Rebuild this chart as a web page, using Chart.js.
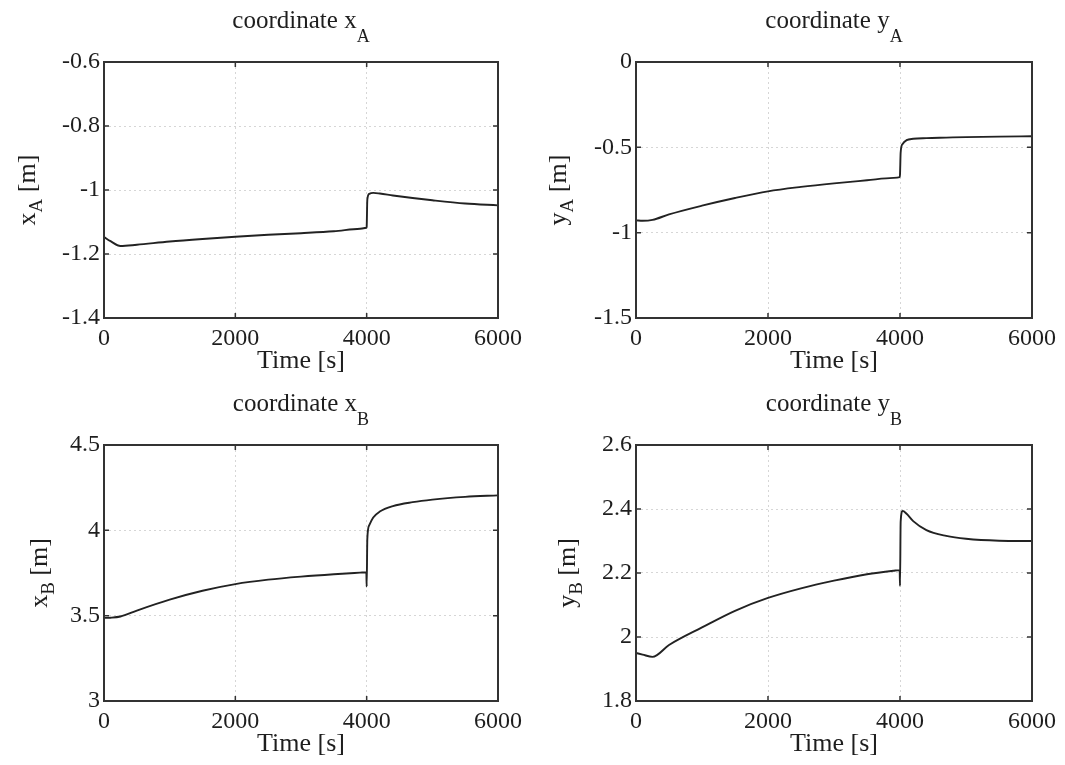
<!DOCTYPE html>
<html>
<head>
<meta charset="utf-8">
<script src="https://cdn.jsdelivr.net/npm/chart.js@4.4.1/dist/chart.umd.min.js"></script>
<style>
  html, body { margin: 0; padding: 0; background: #fff; }
  #wrap { position: relative; width: 1065px; height: 765px; }
  .panel { position: absolute; }
</style>
</head>
<body>
<div id="wrap">
  <div class="panel" style="left:0;top:0;width:532px;height:382px"><canvas id="c0"></canvas></div>
  <div class="panel" style="left:532px;top:0;width:533px;height:382px"><canvas id="c1"></canvas></div>
  <div class="panel" style="left:0;top:382px;width:532px;height:383px"><canvas id="c2"></canvas></div>
  <div class="panel" style="left:532px;top:382px;width:533px;height:383px"><canvas id="c3"></canvas></div>
</div>
<script>
// time samples [s]
const timeS = [0, 100, 250, 500, 1000, 1500, 2000, 2500, 3000, 3500, 3900, 3995, 4000, 4010, 4040, 4100, 4200, 4400, 4700, 5000, 5500, 6000];

// coordinates [m]
const xA = [-1.147, -1.160, -1.175, -1.171, -1.161, -1.153, -1.146, -1.140, -1.135, -1.129, -1.121, -1.118, -1.115, -1.030, -1.012, -1.009, -1.011, -1.017, -1.025, -1.032, -1.042, -1.048];
const yA = [-0.928, -0.930, -0.925, -0.893, -0.842, -0.797, -0.758, -0.732, -0.711, -0.693, -0.679, -0.675, -0.660, -0.530, -0.480, -0.458, -0.450, -0.446, -0.443, -0.440, -0.437, -0.435];
const xB = [3.487, 3.488, 3.495, 3.530, 3.594, 3.646, 3.685, 3.711, 3.729, 3.743, 3.752, 3.754, 3.670, 3.950, 4.030, 4.075, 4.110, 4.142, 4.165, 4.180, 4.196, 4.205];
const yB = [1.950, 1.945, 1.938, 1.975, 2.030, 2.082, 2.122, 2.152, 2.176, 2.196, 2.207, 2.209, 2.160, 2.360, 2.394, 2.385, 2.362, 2.334, 2.316, 2.307, 2.301, 2.300];

// tick labels
const timeTicks = [0, 2000, 4000, 6000];
const xATicks = [-1.4, -1.2, -1, -0.8, -0.6];
const yATicks = [-1.5, -1, -0.5, 0];
const xBTicks = [3, 3.5, 4, 4.5];
const yBTicks = [1.8, 2, 2.2, 2.4, 2.6];

const FONT = '"Liberation Serif", "Times New Roman", serif';
const INK = '#1e1e1e';

const panels = [
  { id: 'c0', vals: xA, ticks: xATicks, sym: 'x', sub: 'A', top: 62, right: 34, ylab: 69 },
  { id: 'c1', vals: yA, ticks: yATicks, sym: 'y', sub: 'A', top: 62, right: 33, ylab: 70 },
  { id: 'c2', vals: xB, ticks: xBTicks, sym: 'x', sub: 'B', top: 63, right: 34, ylab: 57 },
  { id: 'c3', vals: yB, ticks: yBTicks, sym: 'y', sub: 'B', top: 63, right: 33, ylab: 61 }
];

// draws text made of parts, some of them subscripts
function drawParts(ctx, parts, x, y, size, subSize, subDrop) {
  let total = 0;
  parts.forEach(p => {
    ctx.font = (p.sub ? subSize : size) + 'px ' + FONT;
    total += ctx.measureText(p.t).width;
  });
  let cx = x - total / 2;
  parts.forEach(p => {
    ctx.font = (p.sub ? subSize : size) + 'px ' + FONT;
    ctx.fillText(p.t, cx, p.sub ? y + subDrop : y);
    cx += ctx.measureText(p.t).width;
  });
}

const frame = {
  id: 'frame',
  afterDatasetsDraw(chart, args, opts) {
    const { ctx, chartArea: a, scales } = chart;
    ctx.save();
    ctx.strokeStyle = '#333';
    ctx.lineWidth = 1.5;
    ctx.beginPath();
    scales.x.ticks.forEach(t => {
      const px = scales.x.getPixelForValue(t.value);
      ctx.moveTo(px, a.bottom); ctx.lineTo(px, a.bottom - 5);
      ctx.moveTo(px, a.top); ctx.lineTo(px, a.top + 5);
    });
    scales.y.ticks.forEach(t => {
      const py = scales.y.getPixelForValue(t.value);
      ctx.moveTo(a.left, py); ctx.lineTo(a.left + 5, py);
      ctx.moveTo(a.right, py); ctx.lineTo(a.right - 5, py);
    });
    ctx.stroke();
    ctx.lineWidth = 2;
    ctx.strokeRect(a.left, a.top, a.right - a.left, a.bottom - a.top);

    ctx.fillStyle = INK;
    ctx.textAlign = 'left';
    ctx.textBaseline = 'alphabetic';
    const midX = (a.left + a.right) / 2;
    // title
    drawParts(ctx, [{ t: 'coordinate ' + opts.sym }, { t: opts.sub, sub: true }], midX, a.top - 34, 25, 18, 14);
    // x label
    drawParts(ctx, [{ t: 'Time [s]' }], midX, a.bottom + 50, 26, 18, 0);
    // y label, rotated
    ctx.translate(a.left - opts.ylab, (a.top + a.bottom) / 2);
    ctx.rotate(-Math.PI / 2);
    drawParts(ctx, [{ t: opts.sym }, { t: opts.sub, sub: true }, { t: ' [m]' }], 0, 0, 26, 19, 7);
    ctx.restore();
  }
};

function fmt(v) {
  return String(Number(v.toFixed(3)));
}

panels.forEach(p => {
  const pts = timeS.map((t, i) => ({ x: t, y: p.vals[i] }));
  new Chart(document.getElementById(p.id), {
    type: 'line',
    data: {
      datasets: [{
        data: pts,
        borderColor: '#222',
        borderWidth: 1.9,
        pointRadius: 0,
        cubicInterpolationMode: 'monotone',
        fill: false
      }]
    },
    options: {
      responsive: true,
      maintainAspectRatio: false,
      animation: false,
      layout: { padding: { top: p.top, right: p.right, left: 0, bottom: 0 } },
      plugins: {
        legend: { display: false },
        tooltip: { enabled: false },
        frame: { sym: p.sym, sub: p.sub, ylab: p.ylab }
      },
      scales: {
        x: {
          type: 'linear',
          min: timeTicks[0],
          max: timeTicks[timeTicks.length - 1],
          afterBuildTicks: s => { s.ticks = timeTicks.map(v => ({ value: v })); },
          afterFit: s => { s.height = 64; },
          grid: { color: '#d6d6d6', lineWidth: 1, drawTicks: false },
          border: { display: false, dash: [2, 3] },
          ticks: {
            padding: 6, maxRotation: 0, autoSkip: false, color: INK,
            font: { family: FONT, size: 24 },
            callback: v => fmt(v)
          }
        },
        y: {
          type: 'linear',
          min: p.ticks[0],
          max: p.ticks[p.ticks.length - 1],
          afterBuildTicks: s => { s.ticks = p.ticks.map(v => ({ value: v })); },
          afterFit: s => { s.width = 104; },
          grid: { color: '#d6d6d6', lineWidth: 1, drawTicks: false },
          border: { display: false, dash: [2, 3] },
          ticks: {
            padding: 4, autoSkip: false, color: INK,
            font: { family: FONT, size: 24 },
            callback: v => fmt(v)
          }
        }
      }
    },
    plugins: [frame]
  });
});
</script>
</body>
</html>
